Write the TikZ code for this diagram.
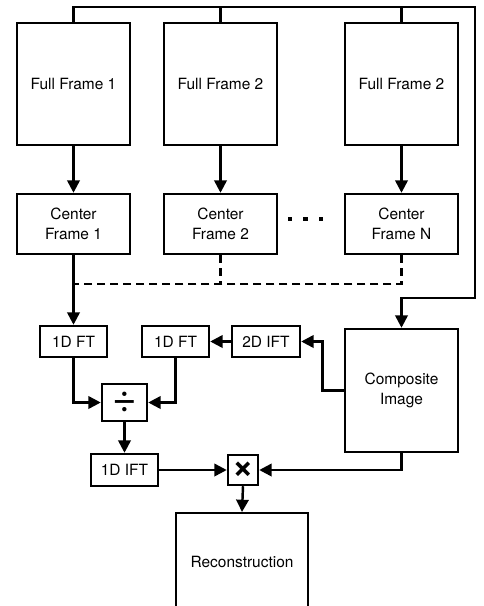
\documentclass[tikz,border=0pt]{standalone}
\usepackage{fontspec}
\setmainfont{TeX Gyre Heros}
\usepackage{tikz}
\usetikzlibrary{arrows.meta, positioning, calc}
\tikzstyle{arrow} = [line width=1.4pt,-{Triangle[length=7pt,width=7pt]}]
\tikzstyle{wire} = [line width=1.4pt]
\tikzstyle{dashwire} = [line width=1.4pt, dash pattern=on 4.6pt off 2.8pt]
\tikzstyle{block} = [draw=black, line width=1.4pt, inner sep=0pt, align=center, font=\fontsize{8.8}{11.3}\selectfont]

\begin{document}
\begin{tikzpicture}[x=0.02cm, y=-0.02cm]
    \clip (0,0) rectangle (484,606);
    \useasboundingbox (0,0) rectangle (484,606);

    % Full frames and center frames
    \foreach \x/\name/\label/\clabel in {73.5/1/Full Frame 1/Center\\Frame 1, 220.5/2/Full Frame 2/Center\\Frame 2, 401.5/N/Full Frame 2/Center\\Frame N} {
        \node[block, minimum width=2.26cm, minimum height=2.44cm] (full\name) at (\x,84) {\label};
        \node[block, minimum width=2.26cm, minimum height=1.2cm] (ctr\name) at (\x,224) {\clabel};
        \draw[arrow] (full\name.south) -- (ctr\name.north);
    }

    % Dots between center frames
    \foreach \x in {290, 305.5, 321} {
        \fill (\x-2.2,216.8) rectangle (\x+2.2,221.2);
    }

    % Processing blocks
    \node[block, minimum width=1.34cm, minimum height=0.62cm] (ft1) at (73.5,341.5) {1D FT};
    \node[block, minimum width=1.34cm, minimum height=0.62cm] (ft2) at (175.5,341.5) {1D FT};
    \node[block, minimum width=1.36cm, minimum height=0.62cm] (ift2) at (266,341.5) {2D IFT};
    \node[block, minimum width=2.26cm, minimum height=2.46cm] (comp) at (401.5,390.5) {Composite\\Image};
    \node[block, minimum width=0.9cm, minimum height=0.74cm, font=\fontsize{24}{24}\selectfont] (div) at (124.5,402.5) {÷};
    \node[block, minimum width=1.34cm, minimum height=0.64cm] (ift1) at (124.5,470) {1D IFT};
    \node[block, minimum width=0.6cm, minimum height=0.6cm, font=\fontsize{21}{21}\selectfont\bfseries] (mult) at (243,470) {×};
    \node[block, minimum width=2.64cm, minimum height=1.96cm, anchor=north] (recon) at (242,512) {Reconstruction};

    % Bus from full frames to composite image
    \coordinate (busR) at (475,7);
    \coordinate (busD) at (475,298);
    \draw[arrow] (full1.north) |- (busR) -- (busD) -| (comp.north);
    \draw[wire] (full2.north) -- (full2.north |- busR);
    \draw[wire] (fullN.north) -- (fullN.north |- busR);

    % Center frames to 1D FT
    \coordinate (dashL) at (73.5,284);
    \draw[arrow] (ctr1.south) -- (ft1.north);
    \draw[dashwire] (ctrN.south) |- (dashL);
    \draw[dashwire] (ctr2.south) -- (ctr2.south |- dashL);

    % Composite image branch
    \draw[arrow] (comp.west) -| ($(ift2.east)!0.5!(comp.west)$) |- (ift2.east);
    \draw[arrow] (ift2.west) -- (ft2.east);

    % Division and inverse transform
    \draw[arrow] (ft1.south) |- (div.west);
    \draw[arrow] (ft2.south) |- (div.east);
    \draw[arrow] (div.south) -- (ift1.north);

    % Multiplication
    \draw[arrow] (ift1.east) -- (mult.west);
    \draw[arrow] (comp.south) |- (mult.east);
    \draw[arrow] (mult.south) -- (recon.north);
\end{tikzpicture}
\end{document}
